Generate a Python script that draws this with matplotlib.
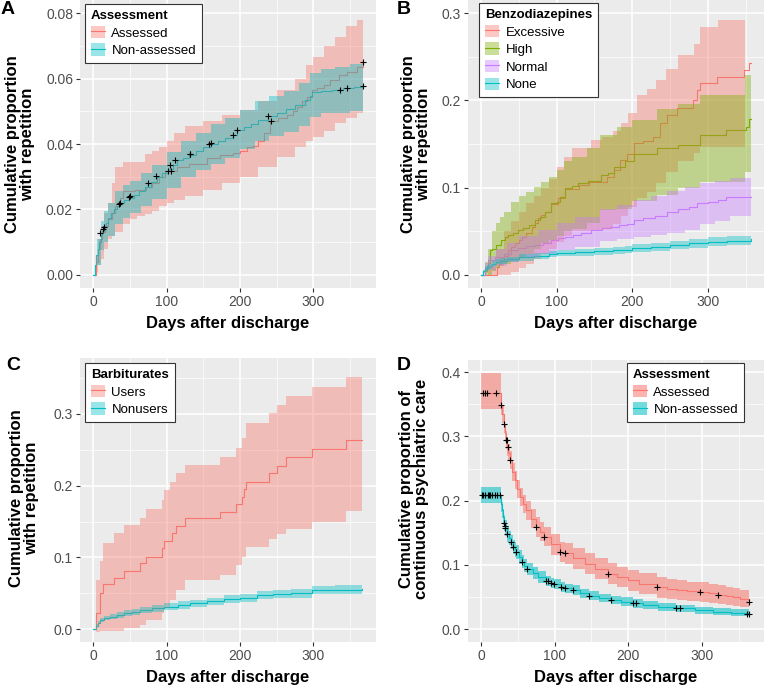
import matplotlib
matplotlib.use("Agg")
import matplotlib.pyplot as plt
from matplotlib.patches import Patch
from matplotlib.lines import Line2D
from matplotlib.legend_handler import HandlerTuple

plt.rcParams["font.family"] = ["Liberation Sans", "DejaVu Sans"]

RED, TEAL, OLIVE, PURPLE = "#F8766D", "#00BFC4", "#7CAE00", "#C77CFF"

# ---------------- Panel A: repetition by assessment ----------------
a_nonass_days = [0, 2, 4, 6, 8, 10, 12, 14, 17, 20, 24, 28, 32, 36, 42, 48, 55, 62, 70, 78, 86, 94,
                 102, 108, 114, 122, 130, 140, 150, 160, 170, 180, 190, 196, 205, 215, 225, 238, 250,
                 262, 275, 288, 296, 298, 310, 325, 340, 355, 367]
a_nonass_vals = [0, 0.003, 0.006, 0.008, 0.010, 0.0122, 0.0135, 0.0145, 0.016, 0.0175, 0.019, 0.020,
                 0.021, 0.022, 0.0228, 0.0236, 0.0245, 0.0255, 0.0268, 0.0283, 0.0300, 0.0312, 0.0325,
                 0.0337, 0.0350, 0.0358, 0.0367, 0.0378, 0.0390, 0.0401, 0.0410, 0.0418, 0.0428, 0.0443,
                 0.0452, 0.0462, 0.0472, 0.0486, 0.0496, 0.0508, 0.0520, 0.0535, 0.0548, 0.0560, 0.0562,
                 0.0566, 0.0570, 0.0575, 0.058]
a_nonass_band_days = [0, 5, 10, 15, 20, 30, 40, 50, 65, 80, 100, 120, 140, 160, 180, 200, 220, 240,
                      260, 280, 296, 310, 330, 350, 367]
a_nonass_hi = [0, 0.011, 0.0165, 0.0195, 0.022, 0.0255, 0.0275, 0.0288, 0.031, 0.0335, 0.0375, 0.041,
               0.0435, 0.046, 0.048, 0.0505, 0.053, 0.0547, 0.0563, 0.0585, 0.0618, 0.063, 0.0636,
               0.0643, 0.065]
a_nonass_lo = [0, 0.003, 0.0075, 0.010, 0.012, 0.0155, 0.0175, 0.0188, 0.021, 0.0231, 0.0265, 0.030,
               0.0321, 0.034, 0.0356, 0.0385, 0.041, 0.0425, 0.0437, 0.0455, 0.0482, 0.0494, 0.0496,
               0.050, 0.0504]
a_ass_days = [0, 3, 6, 9, 12, 16, 20, 25, 30, 36, 40, 57, 72, 80, 90, 98, 114, 130, 155, 173, 191,
              200, 210, 218, 225, 232, 241, 252, 264, 272, 278, 285, 291, 298, 305, 315, 323, 335,
              346, 360, 367]
a_ass_vals = [0, 0.004, 0.008, 0.011, 0.013, 0.015, 0.017, 0.019, 0.021, 0.0235, 0.0255, 0.026,
              0.0268, 0.028, 0.030, 0.0316, 0.033, 0.034, 0.0357, 0.0366, 0.0372, 0.038, 0.039,
              0.0395, 0.041, 0.0433, 0.047, 0.048, 0.049, 0.050, 0.0514, 0.053, 0.0545, 0.0565,
              0.057, 0.058, 0.0595, 0.061, 0.062, 0.0636, 0.065]
a_ass_band_days = [0, 3, 6, 10, 15, 20, 25, 30, 40, 50, 60, 70, 80, 90, 100, 110, 125, 150, 175,
                   200, 225, 250, 275, 290, 300, 315, 330, 345, 360, 367]
a_ass_hi = [0, 0.006, 0.011, 0.015, 0.019, 0.022, 0.028, 0.033, 0.0345, 0.0345, 0.0345, 0.037,
            0.038, 0.039, 0.041, 0.0435, 0.0455, 0.047, 0.049, 0.0504, 0.053, 0.0565, 0.060, 0.064,
            0.0667, 0.070, 0.0728, 0.076, 0.078, 0.078]
a_ass_lo = [0, 0.001, 0.003, 0.005, 0.008, 0.011, 0.012, 0.013, 0.0155, 0.017, 0.018, 0.0185,
            0.0195, 0.021, 0.022, 0.023, 0.024, 0.026, 0.028, 0.030, 0.033, 0.036, 0.039, 0.041,
            0.042, 0.044, 0.0463, 0.048, 0.0494, 0.0494]
a_nonass_cens_days = [9.5, 13, 14.5, 35, 36, 48, 50, 74, 85, 105, 111, 131, 132, 158, 160, 190, 196,
                      238, 336, 346, 367]
a_nonass_cens_vals = [0.0127, 0.0140, 0.0146, 0.0218, 0.0219, 0.0237, 0.0240, 0.0281, 0.0302,
                      0.0336, 0.0351, 0.0368, 0.0368, 0.0401, 0.0402, 0.0426, 0.0443, 0.0485,
                      0.0566, 0.0571, 0.0578]
a_ass_cens_days = [101, 106, 242, 367]
a_ass_cens_vals = [0.0316, 0.0316, 0.047, 0.065]

# ---------------- Panel B: benzodiazepines ----------------
b_exc_days = [0, 21, 24, 27, 31, 36, 40, 45, 50, 54, 60, 67, 72, 76, 80, 85, 93, 102, 111, 130,
              143, 158, 167, 176, 184, 193, 202, 215, 228, 237, 246, 259, 281, 286, 290, 312, 348,
              354, 357]
b_exc_vals = [0, 0.0095, 0.013, 0.017, 0.022, 0.0286, 0.032, 0.036, 0.040, 0.044, 0.048, 0.055,
              0.060, 0.065, 0.069, 0.0725, 0.0815, 0.088, 0.099, 0.103, 0.107, 0.107, 0.1126,
              0.120, 0.1317, 0.139, 0.151, 0.153, 0.158, 0.174, 0.183, 0.191, 0.200, 0.212, 0.2195,
              0.227, 0.235, 0.2424, 0.2424]
b_exc_band_days = [0, 10, 20, 30, 40, 50, 60, 70, 80, 90, 100, 110, 120, 145, 160, 175, 185, 195,
                   207, 220, 231, 245, 260, 282, 290, 313, 349]
b_exc_hi = [0, 0.01, 0.03, 0.05, 0.062, 0.072, 0.082, 0.09, 0.10, 0.11, 0.124, 0.135, 0.145,
            0.155, 0.158, 0.165, 0.174, 0.185, 0.206, 0.213, 0.223, 0.236, 0.252, 0.265, 0.284,
            0.292, 0.292]
b_exc_lo = [0, 0, 0, 0, 0.003, 0.008, 0.012, 0.018, 0.024, 0.03, 0.038, 0.045, 0.05, 0.052, 0.053,
            0.058, 0.068, 0.078, 0.088, 0.095, 0.105, 0.118, 0.13, 0.14, 0.147, 0.147, 0.147]
b_high_days = [0, 5, 8, 10, 12, 15, 20, 27, 32, 36, 42, 49, 56, 63, 71, 78, 85, 93, 100, 105, 111,
               120, 129, 142, 159, 168, 176, 190, 202, 233, 260, 290, 324, 350, 354, 357]
b_high_vals = [0, 0.005, 0.01, 0.0134, 0.0286, 0.03, 0.034, 0.040, 0.043, 0.0458, 0.048, 0.0515,
               0.054, 0.057, 0.063, 0.066, 0.0725, 0.082, 0.084, 0.0897, 0.0996, 0.102, 0.105,
               0.108, 0.1145, 0.1164, 0.124, 0.13, 0.139, 0.145, 0.149, 0.160, 0.166, 0.170, 0.179,
               0.179]
b_high_band_days = [0, 5, 10, 15, 20, 25, 30, 40, 50, 60, 70, 80, 90, 100, 110, 120, 140, 158, 180,
                    200, 233, 260, 290, 349, 357]
b_high_hi = [0, 0.015, 0.03, 0.05, 0.06, 0.066, 0.072, 0.083, 0.09, 0.095, 0.101, 0.106, 0.112,
             0.12, 0.13, 0.135, 0.145, 0.16, 0.17, 0.178, 0.19, 0.196, 0.206, 0.229, 0.229]
b_high_lo = [0, 0, 0, 0.005, 0.008, 0.01, 0.012, 0.016, 0.02, 0.024, 0.03, 0.036, 0.04, 0.045,
             0.05, 0.053, 0.06, 0.074, 0.076, 0.085, 0.092, 0.1, 0.106, 0.118, 0.118]
b_norm_days = [0, 5, 10, 18, 30, 40, 49, 60, 71, 82, 93, 102, 111, 122, 133, 146, 160, 171, 182,
               193, 202, 215, 230, 246, 260, 275, 286, 300, 313, 324, 357]
b_norm_vals = [0, 0.008, 0.017, 0.02, 0.024, 0.028, 0.031, 0.033, 0.0343, 0.037, 0.040, 0.042,
               0.0439, 0.046, 0.048, 0.051, 0.0534, 0.055, 0.057, 0.0585, 0.0624, 0.065, 0.068,
               0.0725, 0.075, 0.078, 0.082, 0.0835, 0.0855, 0.0897, 0.0897]
b_norm_band_days = [0, 5, 10, 20, 35, 50, 75, 100, 125, 158, 180, 202, 225, 246, 270, 290, 310,
                    330, 357]
b_norm_hi = [0, 0.014, 0.022, 0.03, 0.037, 0.045, 0.052, 0.06, 0.066, 0.075, 0.08, 0.0855, 0.09,
             0.0956, 0.101, 0.105, 0.108, 0.111, 0.111]
b_norm_lo = [0, 0.002, 0.006, 0.01, 0.015, 0.02, 0.024, 0.028, 0.032, 0.0385, 0.041, 0.044, 0.046,
             0.0477, 0.052, 0.058, 0.062, 0.067, 0.067]
b_none_days = [0, 3, 6, 10, 15, 20, 25, 35, 50, 70, 90, 100, 125, 150, 175, 190, 200, 225, 250,
               275, 300, 325, 357]
b_none_vals = [0, 0.004, 0.007, 0.010, 0.013, 0.015, 0.016, 0.018, 0.020, 0.022, 0.024, 0.025,
               0.026, 0.027, 0.028, 0.029, 0.031, 0.032, 0.034, 0.036, 0.038, 0.039, 0.041]
b_none_hi = [0, 0.006, 0.010, 0.013, 0.016, 0.018, 0.019, 0.021, 0.0235, 0.0255, 0.0278, 0.0288,
             0.030, 0.031, 0.0322, 0.0333, 0.0355, 0.0366, 0.0388, 0.041, 0.0432, 0.0443, 0.0462]
b_none_lo = [0, 0.002, 0.004, 0.007, 0.010, 0.012, 0.013, 0.015, 0.0165, 0.0185, 0.0202, 0.0212,
             0.022, 0.023, 0.0238, 0.0247, 0.0265, 0.0274, 0.0292, 0.031, 0.0328, 0.0337, 0.0358]

# ---------------- Panel C: barbiturates ----------------
c_users_days = [0, 4, 9.5, 13, 28, 41, 64, 71, 94, 96, 107, 112, 125, 173, 194, 203, 206, 208,
                239, 250, 262, 298, 344, 366]
c_users_vals = [0, 0.022, 0.05, 0.063, 0.0707, 0.0814, 0.0916, 0.101, 0.1126, 0.1228, 0.1335,
                0.144, 0.1544, 0.1637, 0.1744, 0.1847, 0.195, 0.2056, 0.217, 0.2274, 0.2395,
                0.251, 0.2637, 0.2637]
c_users_band_days = [0, 4, 9.5, 13, 28, 41, 64, 71, 94, 96, 105, 112, 125, 173, 194, 203, 208,
                     239, 250, 262, 298, 344, 366]
c_users_hi = [0, 0.068, 0.095, 0.1205, 0.1335, 0.145, 0.1544, 0.167, 0.18, 0.194, 0.205, 0.217,
              0.229, 0.2405, 0.252, 0.266, 0.288, 0.301, 0.3126, 0.325, 0.337, 0.352, 0.352]
c_users_lo = [0, -0.004, -0.003, -0.002, -0.002, 0.002, 0.006, 0.012, 0.022, 0.03, 0.04, 0.055,
              0.068, 0.075, 0.09, 0.1, 0.115, 0.125, 0.133, 0.14, 0.15, 0.164, 0.164]
c_non_days = [0, 3, 6, 9.5, 15, 23, 32, 41, 52, 64, 80, 96, 115, 132, 155, 178, 200, 223, 245,
              269, 298, 330, 366]
c_non_vals = [0, 0.005, 0.009, 0.0126, 0.015, 0.017, 0.0195, 0.022, 0.024, 0.0265, 0.029, 0.031,
              0.0335, 0.0358, 0.0385, 0.0414, 0.0435, 0.047, 0.0485, 0.0498, 0.0544, 0.0552,
              0.0558]
c_non_hi = [0, 0.007, 0.0115, 0.0155, 0.018, 0.0205, 0.0232, 0.026, 0.0282, 0.0309, 0.0336,
            0.0358, 0.0385, 0.041, 0.0438, 0.0469, 0.0491, 0.0527, 0.0543, 0.0557, 0.0603,
            0.0612, 0.0618]
c_non_lo = [0, 0.003, 0.0065, 0.0097, 0.012, 0.0135, 0.0158, 0.018, 0.0198, 0.0221, 0.0244,
            0.0262, 0.0285, 0.0306, 0.0332, 0.0359, 0.0379, 0.0413, 0.0427, 0.0439, 0.0485,
            0.0492, 0.0498]

# ---------------- Panel D: continuous psychiatric care ----------------
d_ass_days = [0, 27.6, 29, 31, 33, 34, 36, 37, 39, 42, 45.7, 49, 52.5, 57, 61.5, 68, 75, 80, 86,
              95, 107, 113.6, 125, 141, 155, 172, 185, 200, 215, 238.5, 252, 265.6, 280, 297,
              310, 322, 333, 342, 352, 364]
d_ass_vals = [0.3683, 0.3486, 0.335, 0.32, 0.305, 0.295, 0.2838, 0.275, 0.263, 0.245, 0.232, 0.218,
              0.206, 0.195, 0.185, 0.172, 0.159, 0.152, 0.1437, 0.132, 0.12, 0.1178, 0.11, 0.102,
              0.094, 0.0866, 0.081, 0.0763, 0.071, 0.0649, 0.0625, 0.0607, 0.059, 0.058, 0.056,
              0.0534, 0.052, 0.0503, 0.047, 0.0425]
d_ass_hi = [0.398, 0.363, 0.349, 0.334, 0.319, 0.309, 0.298, 0.289, 0.277, 0.259, 0.246, 0.232,
            0.220, 0.209, 0.200, 0.187, 0.174, 0.167, 0.159, 0.148, 0.136, 0.134, 0.126, 0.118,
            0.110, 0.103, 0.097, 0.092, 0.087, 0.081, 0.078, 0.076, 0.074, 0.073, 0.071, 0.068,
            0.066, 0.064, 0.061, 0.056]
d_ass_lo = [0.343, 0.334, 0.321, 0.306, 0.291, 0.281, 0.270, 0.261, 0.249, 0.231, 0.218, 0.204,
            0.192, 0.181, 0.170, 0.157, 0.144, 0.137, 0.129, 0.116, 0.104, 0.102, 0.094, 0.086,
            0.078, 0.070, 0.065, 0.060, 0.055, 0.049, 0.047, 0.045, 0.044, 0.043, 0.041, 0.039,
            0.038, 0.036, 0.034, 0.030]
d_non_days = [0, 26.7, 28, 30, 31, 32, 33, 35.7, 38, 41, 44, 46, 48, 52, 55.7, 59, 63, 70, 78,
              88.7, 95, 99, 109, 113.6, 125, 135, 146, 160, 177, 190, 206, 220, 240, 265, 290,
              315, 340, 364]
d_non_vals = [0.2086, 0.1956, 0.185, 0.175, 0.1655, 0.161, 0.158, 0.148, 0.142, 0.1354, 0.128,
              0.124, 0.12, 0.112, 0.1048, 0.099, 0.0934, 0.087, 0.081, 0.0752, 0.0721, 0.0705,
              0.0659, 0.0633, 0.0607, 0.056, 0.0519, 0.0485, 0.0451, 0.043, 0.040, 0.038, 0.035,
              0.0322, 0.0295, 0.027, 0.0255, 0.0238]
d_non_hi = [0.2215, 0.2085, 0.1975, 0.1875, 0.178, 0.1735, 0.1705, 0.1600, 0.1535, 0.1465, 0.139,
            0.135, 0.131, 0.1225, 0.1148, 0.1085, 0.1027, 0.096, 0.0898, 0.0832, 0.080, 0.0783,
            0.0735, 0.0708, 0.068, 0.063, 0.0589, 0.0553, 0.0517, 0.0495, 0.0463, 0.0442, 0.041,
            0.0380, 0.0352, 0.0326, 0.0308, 0.0290]
d_non_lo = [0.1966, 0.1827, 0.1725, 0.1625, 0.153, 0.1485, 0.1455, 0.136, 0.1305, 0.1243, 0.117,
            0.113, 0.109, 0.1015, 0.0948, 0.0895, 0.0841, 0.078, 0.0722, 0.0672, 0.0642, 0.0627,
            0.0583, 0.0558, 0.0534, 0.049, 0.0449, 0.0417, 0.0385, 0.0365, 0.0337, 0.0318, 0.029,
            0.0264, 0.0238, 0.0214, 0.0202, 0.0186]
d_ass_cens_days = [3, 5, 8, 21, 27.6, 31, 34, 35, 36.7, 39, 75, 86, 107, 113.6, 172, 238.5, 297,
                   322, 364]
d_ass_cens_vals = [0.3683, 0.3683, 0.3683, 0.3683, 0.3486, 0.32, 0.295, 0.295, 0.2838, 0.263,
                   0.159, 0.1437, 0.12, 0.1178, 0.0866, 0.0649, 0.058, 0.0534, 0.0425]
d_non_cens_days = [1, 3, 6, 9.5, 11, 12.7, 15, 18.6, 22, 25.3, 31, 32, 33, 35.7, 41, 44, 48, 55.7,
                   63, 88.7, 90.5, 95, 99, 109, 113.6, 125, 146, 177, 206, 210, 265, 270, 361, 364]
d_non_cens_vals = [0.2086] * 10 + [0.1655, 0.161, 0.158, 0.148, 0.1354, 0.128, 0.12, 0.1048,
                                   0.0934, 0.0752, 0.0752, 0.0721, 0.0705, 0.0659, 0.0633, 0.0607,
                                   0.0519, 0.0451, 0.040, 0.040, 0.0322, 0.0322, 0.0238, 0.0238]

W, H = 764, 688
fig = plt.figure(figsize=(W / 100, H / 100), dpi=100)


def px_axes(left, top, right, bottom):
    return fig.add_axes([left / W, 1 - bottom / H, (right - left) / W, (bottom - top) / H])


def style(ax, xlim, ylim, yticks, yminor, yfmt):
    ax.set_facecolor("#EBEBEB")
    for s in ax.spines.values():
        s.set_visible(False)
    ax.set_xlim(xlim); ax.set_ylim(ylim)
    ax.set_xticks([0, 100, 200, 300]); ax.set_xticks([50, 150, 250, 350], minor=True)
    ax.set_yticks(yticks); ax.set_yticks(yminor, minor=True)
    ax.set_yticklabels([yfmt.format(v) for v in yticks])
    ax.grid(which="major", color="white", lw=1.1)
    ax.grid(which="minor", color="white", lw=0.5)
    ax.set_axisbelow(True)
    ax.tick_params(which="major", length=3, width=0.8, color="#333333",
                   labelcolor="#4D4D4D", labelsize=10, pad=2)
    ax.tick_params(which="minor", length=0)
    ax.set_xlabel("Days after discharge", fontsize=12, fontweight="bold", labelpad=5)


def curve(ax, days, vals, bdays, lo, hi, color, alpha):
    ax.step(days, vals, where="post", color=color, lw=0.8, zorder=2)
    ax.fill_between(bdays, lo, hi, step="post", color=color, alpha=alpha, lw=0, zorder=3)


def censor(ax, days, vals):
    ax.plot(days, vals, ls="none", marker="+", color="black", ms=4, mew=0.8, zorder=4)


def legend(ax, title, labels, colors, alpha, x, y):
    handles = [(Patch(facecolor=c, alpha=alpha, edgecolor="none"), Line2D([], [], color=c, lw=0.8))
               for c in colors]
    leg = ax.legend(handles, labels, title=title, loc="upper left",
                    bbox_to_anchor=(x / W, 1 - y / H), bbox_transform=fig.transFigure,
                    handler_map={tuple: HandlerTuple(ndivide=1, pad=0)}, fontsize=9.5,
                    title_fontproperties={"weight": "bold", "size": 9.5}, alignment="left",
                    fancybox=False, edgecolor="#333333", framealpha=1, borderpad=0.45,
                    handlelength=1.1, handleheight=1.05, handletextpad=0.45, labelspacing=0.3,
                    borderaxespad=0)
    leg.get_frame().set_linewidth(0.8)


ylab = dict(rotation=90, ha="center", va="center", fontsize=12, fontweight="bold",
            linespacing=1.05)
letter = dict(ha="left", va="top", fontsize=14, fontweight="bold")

# A
ax = px_axes(80, 0, 376, 288)
style(ax, (-18.35, 385.35), (-0.004, 0.084), [0, 0.02, 0.04, 0.06, 0.08],
      [0.01, 0.03, 0.05, 0.07], "{:.2f}")
curve(ax, a_ass_days, a_ass_vals, a_ass_band_days, a_ass_lo, a_ass_hi, RED, 0.4)
ax.step(a_nonass_days, a_nonass_vals, where="post", color=TEAL, lw=0.8, zorder=2)
ax.fill_between(a_nonass_band_days, a_nonass_lo, a_nonass_hi, step="post", color=TEAL,
                alpha=0.4, lw=0, zorder=3)
censor(ax, a_nonass_cens_days, a_nonass_cens_vals)
censor(ax, a_ass_cens_days, a_ass_cens_vals)
legend(ax, "Assessment", ["Assessed", "Non-assessed"], [RED, TEAL], 0.4, 85, 4)
fig.text(20 / W, 1 - 144 / H, "Cumulative proportion\nwith repetition", **ylab)
fig.text(1 / W, 1 - 1 / H, "A", **letter)

# B
ax = px_axes(468, 0, 764, 288)
style(ax, (-17.1, 374.4), (-0.015, 0.315), [0, 0.1, 0.2, 0.3], [0.05, 0.15, 0.25], "{:.1f}")
curve(ax, b_exc_days, b_exc_vals, b_exc_band_days, b_exc_lo, b_exc_hi, RED, 0.4)
curve(ax, b_high_days, b_high_vals, b_high_band_days, b_high_lo, b_high_hi, OLIVE, 0.4)
curve(ax, b_norm_days, b_norm_vals, b_norm_band_days, b_norm_lo, b_norm_hi, PURPLE, 0.4)
curve(ax, b_none_days, b_none_vals, b_none_days, b_none_lo, b_none_hi, TEAL, 0.4)
legend(ax, "Benzodiazepines", ["Excessive", "High", "Normal", "None"],
       [RED, OLIVE, PURPLE, TEAL], 0.4, 479, 3)
fig.text(416 / W, 1 - 144 / H, "Cumulative proportion\nwith repetition", **ylab)
fig.text(397 / W, 1 - 1 / H, "B", **letter)

# C
ax = px_axes(80, 358, 376, 642)
style(ax, (-18.35, 385.35), (-0.018, 0.378), [0, 0.1, 0.2, 0.3], [0.05, 0.15, 0.25, 0.35],
      "{:.1f}")
curve(ax, c_users_days, c_users_vals, c_users_band_days, c_users_lo, c_users_hi, RED, 0.4)
curve(ax, c_non_days, c_non_vals, c_non_days, c_non_lo, c_non_hi, TEAL, 0.4)
legend(ax, "Barbiturates", ["Users", "Nonusers"], [RED, TEAL], 0.4, 85, 363)
fig.text(24 / W, 1 - 498 / H, "Cumulative proportion\nwith repetition", **ylab)
fig.text(6 / W, 1 - 357 / H, "C", **letter)

# D
ax = px_axes(468, 360, 764, 642)
style(ax, (-17.6, 384.2), (-0.020, 0.419), [0, 0.1, 0.2, 0.3, 0.4], [0.05, 0.15, 0.25, 0.35],
      "{:.1f}")
curve(ax, d_ass_days, d_ass_vals, d_ass_days, d_ass_lo, d_ass_hi, RED, 0.55)
curve(ax, d_non_days, d_non_vals, d_non_days, d_non_lo, d_non_hi, TEAL, 0.55)
censor(ax, d_ass_cens_days, d_ass_cens_vals)
censor(ax, d_non_cens_days, d_non_cens_vals)
legend(ax, "Assessment", ["Assessed", "Non-assessed"], [RED, TEAL], 0.55, 627, 363)
fig.text(414 / W, 1 - 489 / H, "Cumulative proportion of\ncontinuous psychiatric care", **ylab)
fig.text(397 / W, 1 - 357 / H, "D", **letter)

fig.savefig("out.png", dpi=100)
